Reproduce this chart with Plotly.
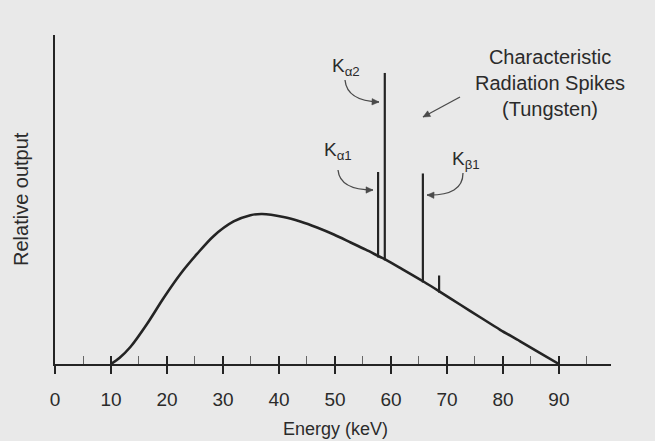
import math
import plotly.graph_objects as go

# ---- data ----
energy_kev = [10.0, 11.5, 13.5, 16.4, 19.4, 22.4, 25.4, 28.3, 31.9, 34.9, 37.0, 40.8,
              43.8, 46.8, 49.8, 52.8, 55.5, 58.0, 59.2, 62.0, 65.8, 68.7, 72.4, 76.0,
              79.5, 83.0, 86.5, 90.0]
relative_output = [0, 4, 11.5, 26.5, 44, 60, 73.5, 85.2, 95, 99.2, 100, 98,
                   95, 91, 86.3, 81, 76.2, 71.5, 69.3, 63.3, 55, 48.3, 39.5, 31,
                   22.8, 15.3, 7.6, 0]

spike_names = ["Kα1", "Kα2", "Kβ1", "Kβ2"]
spike_kev = [57.7, 58.9, 65.7, 68.6]
spike_base = [72.0, 70.0, 55.3, 48.6]
spike_top = [128, 194, 127, 59]

tick_vals = [0, 10, 20, 30, 40, 50, 60, 70, 80, 90]
tick_text = ["0", "10", "20", "30", "40", "50", "60", "70", "80", "90"]

# ---- layout geometry ----
W, H = 655, 441
L, R, T, B = 55, 44, 35, 77
PW, PH = W - L - R, H - T - B
XR, YR = 99.3, 219.3
INK = "#242424"
ARROW = "#4a4a4a"
BG = "#e9e9e9"
FONT = "Liberation Sans, Arial, sans-serif"


def dx(px):
    return (px - L) / PW * XR


def dy(py):
    return (T + PH - py) / PH * YR


def paper_x(px):
    return (px - L) / PW


def paper_y(py):
    return (T + PH - py) / PH


sx, sy = [], []
for k, b0, t0 in zip(spike_kev, spike_base, spike_top):
    sx += [k, k, None]
    sy += [b0 - 1, t0, None]

fig = go.Figure()
fig.add_trace(go.Scatter(x=energy_kev, y=relative_output, mode="lines",
                         line=dict(color=INK, width=2.6, shape="spline", smoothing=0.8),
                         hoverinfo="skip", showlegend=False))
fig.add_trace(go.Scatter(x=sx, y=sy, mode="lines", xaxis="x2",
                         line=dict(color=INK, width=2.2),
                         hoverinfo="skip", showlegend=False))

axis_common = dict(range=[0, XR], showgrid=False, zeroline=False, fixedrange=True)
fig.update_layout(
    width=W, height=H,
    margin=dict(l=L, r=R, t=T, b=B, pad=0),
    paper_bgcolor=BG, plot_bgcolor=BG,
    font=dict(family=FONT, color="#2b2b2b", size=19),
    xaxis=dict(**axis_common, showline=True, linecolor=INK, linewidth=2,
               tickmode="linear", tick0=0, dtick=10, ticks="inside", ticklen=8,
               tickwidth=1.6, tickcolor=INK, showticklabels=False,
               minor=dict(ticks="inside", dtick=5, tick0=0, ticklen=8,
                          tickwidth=1.2, tickcolor="#666")),
    xaxis2=dict(**axis_common, overlaying="x", anchor="y", side="bottom",
                showline=False, tickmode="array", tickvals=tick_vals,
                ticktext=tick_text, ticks="outside", ticklen=9, tickwidth=1.6,
                tickcolor=INK, ticklabelstandoff=9,
                tickfont=dict(size=19, color="#2b2b2b")),
    yaxis=dict(range=[0, YR], showgrid=False, zeroline=False, showline=True,
               linecolor=INK, linewidth=2, ticks="", showticklabels=False,
               fixedrange=True),
)

ann = []
ann.append(dict(x=paper_x(335), y=paper_y(429), xref="paper", yref="paper",
                text="Energy (keV)", showarrow=False, font=dict(size=18),
                xanchor="center", yanchor="middle"))
ann.append(dict(x=paper_x(21), y=paper_y(199), xref="paper", yref="paper",
                text="Relative output", showarrow=False, textangle=-90,
                font=dict(size=20), xanchor="center", yanchor="middle"))
ann.append(dict(x=paper_x(550), y=paper_y(83), xref="paper", yref="paper",
                text="Characteristic<br>Radiation Spikes<br>(Tungsten)",
                showarrow=False, align="center", font=dict(size=20),
                xanchor="center", yanchor="middle"))
for name, (lx, ly) in zip(["K<sub>α2</sub>", "K<sub>α1</sub>", "K<sub>β1</sub>"],
                          [(330, 67), (322, 151), (450, 160)]):
    ann.append(dict(x=paper_x(lx), y=paper_y(ly), xref="paper", yref="paper",
                    text=name, showarrow=False, font=dict(size=19),
                    xanchor="left", yanchor="middle"))

shapes = []


def arrow_head(tip, frm, size=7, half=3.2):
    ux, uy = tip[0] - frm[0], tip[1] - frm[1]
    n = math.hypot(ux, uy)
    ux, uy = ux / n, uy / n
    bx, by = tip[0] - ux * size, tip[1] - uy * size
    p1 = (bx - uy * half, by + ux * half)
    p2 = (bx + uy * half, by - ux * half)
    path = "M {:.3f},{:.3f} L {:.3f},{:.3f} L {:.3f},{:.3f} Z".format(
        dx(tip[0]), dy(tip[1]), dx(p1[0]), dy(p1[1]), dx(p2[0]), dy(p2[1]))
    return dict(type="path", path=path, xref="x", yref="y",
                fillcolor=ARROW, line=dict(color=ARROW, width=0.5))


# straight pointer to the spikes
s0, s1 = (460, 97), (423, 117)
shapes.append(dict(type="line", x0=dx(s0[0]), y0=dy(s0[1]), x1=dx(s1[0]), y1=dy(s1[1]),
                   xref="x", yref="y", line=dict(color=ARROW, width=1.3)))
shapes.append(arrow_head(s1, s0))

# curved pointers
curves = [((345, 80), (347, 101), (379, 102)),
          ((338, 170), (340, 190), (373, 190)),
          ((463, 173), (463, 196), (427, 195))]
for (p0, c, p1) in curves:
    path = "M {:.3f},{:.3f} Q {:.3f},{:.3f} {:.3f},{:.3f}".format(
        dx(p0[0]), dy(p0[1]), dx(c[0]), dy(c[1]), dx(p1[0]), dy(p1[1]))
    shapes.append(dict(type="path", path=path, xref="x", yref="y",
                       line=dict(color=ARROW, width=1.3)))
    shapes.append(arrow_head(p1, c))

fig.update_layout(annotations=ann, shapes=shapes)
fig.write_html("out.html")
